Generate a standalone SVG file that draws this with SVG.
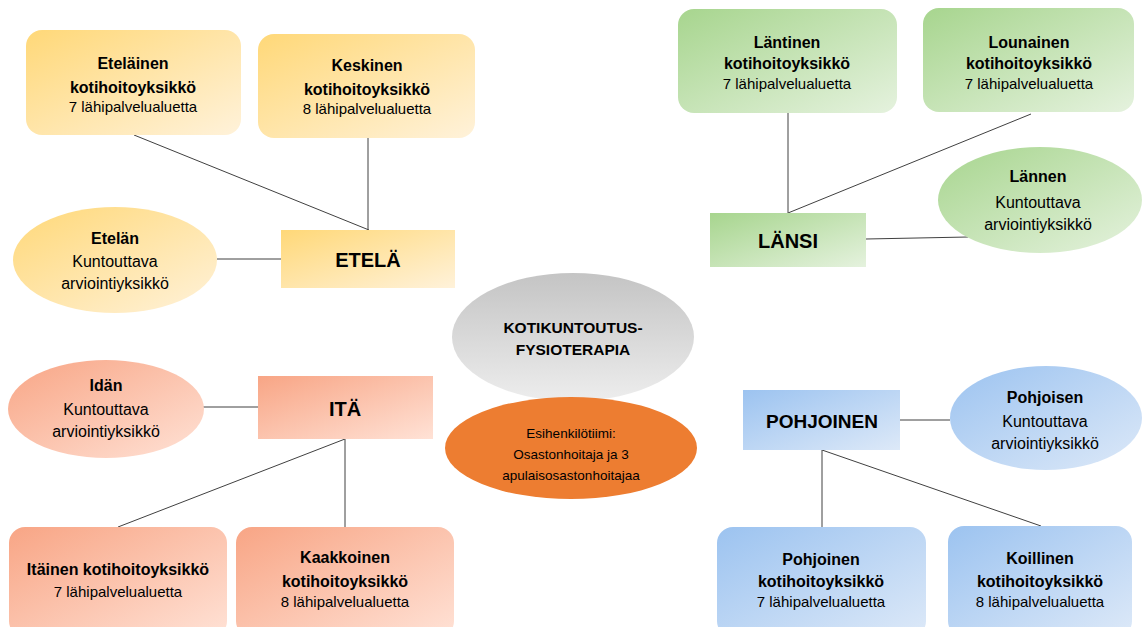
<svg xmlns="http://www.w3.org/2000/svg" width="1142" height="627" viewBox="0 0 1142 627">
<defs>
<linearGradient id="gY" x1="0" y1="0" x2="1" y2="1"><stop offset="0" stop-color="#FFD878"/><stop offset="1" stop-color="#FFF2DA"/></linearGradient>
<linearGradient id="gG" x1="0" y1="0" x2="1" y2="1"><stop offset="0" stop-color="#A7D58E"/><stop offset="1" stop-color="#E5F2DE"/></linearGradient>
<linearGradient id="gR" x1="0" y1="0" x2="1" y2="1"><stop offset="0" stop-color="#F8A585"/><stop offset="1" stop-color="#FFE2D6"/></linearGradient>
<linearGradient id="gB" x1="0" y1="0" x2="1" y2="1"><stop offset="0" stop-color="#9CC3F0"/><stop offset="1" stop-color="#DDE9F8"/></linearGradient>
<linearGradient id="gC" x1="0" y1="0" x2="0" y2="1"><stop offset="0" stop-color="#C4C4C4"/><stop offset="1" stop-color="#EDEDED"/></linearGradient>
</defs>
<style>
text{font-family:"Liberation Sans",Arial,sans-serif;fill:#000;text-anchor:middle}
.b{font-weight:bold;font-size:16px}
.r{font-size:15px}
.e{font-size:16px}
.h{font-weight:bold;font-size:20px}
.c{font-weight:bold;font-size:15.5px}
.o{font-size:13.5px}
.ln{stroke:#404040;stroke-width:1;fill:none}
</style>
<rect width="1142" height="627" fill="#fff"/>
<g id="connectors">
<line class="ln" x1="134" y1="135" x2="369" y2="230"/>
<line class="ln" x1="368" y1="138" x2="368" y2="230"/>
<line class="ln" x1="217" y1="259" x2="281" y2="259"/>
<line class="ln" x1="788" y1="113" x2="788" y2="213"/>
<line class="ln" x1="1031" y1="114" x2="788" y2="213"/>
<line class="ln" x1="866" y1="239" x2="968" y2="237"/>
<line class="ln" x1="203" y1="407" x2="258" y2="407"/>
<line class="ln" x1="345" y1="439" x2="118" y2="527"/>
<line class="ln" x1="345" y1="439" x2="345" y2="527"/>
<line class="ln" x1="900" y1="420" x2="950" y2="420"/>
<line class="ln" x1="822" y1="450" x2="822" y2="527"/>
<line class="ln" x1="822" y1="450" x2="1041" y2="526"/>
</g>
<g id="etelainen">
<rect x="26" y="30" width="215" height="105" rx="16" fill="url(#gY)"/>
<text class="b" x="133" y="69">Eteläinen</text>
<text class="b" x="133" y="93">kotihoitoyksikkö</text>
<text class="r" x="133" y="112">7 lähipalvelualuetta</text>
</g>
<g id="keskinen">
<rect x="258" y="34" width="217" height="104" rx="16" fill="url(#gY)"/>
<text class="b" x="367" y="71">Keskinen</text>
<text class="b" x="367" y="95">kotihoitoyksikkö</text>
<text class="r" x="367" y="114">8 lähipalvelualuetta</text>
</g>
<g id="etelan">
<ellipse cx="115" cy="260" rx="102" ry="53" fill="url(#gY)"/>
<text class="b" x="115" y="244">Etelän</text>
<text class="e" x="115" y="267">Kuntouttava</text>
<text class="e" x="115" y="289">arviointiyksikkö</text>
</g>
<g id="etela">
<rect x="281" y="230" width="174" height="58" fill="url(#gY)"/>
<text class="h" x="368" y="267">ETELÄ</text>
</g>
<g id="lantinen">
<rect x="678" y="9" width="219" height="104" rx="16" fill="url(#gG)"/>
<text class="b" x="787" y="48">Läntinen</text>
<text class="b" x="787" y="69">kotihoitoyksikkö</text>
<text class="r" x="787" y="89">7 lähipalvelualuetta</text>
</g>
<g id="lounainen">
<rect x="923" y="8" width="211" height="104" rx="16" fill="url(#gG)"/>
<text class="b" x="1029" y="48">Lounainen</text>
<text class="b" x="1029" y="69">kotihoitoyksikkö</text>
<text class="r" x="1029" y="89">7 lähipalvelualuetta</text>
</g>
<g id="lannen">
<ellipse cx="1040" cy="200" rx="102" ry="53" fill="url(#gG)"/>
<text class="b" x="1038" y="182">Lännen</text>
<text class="e" x="1038" y="208">Kuntouttava</text>
<text class="e" x="1038" y="230">arviointiyksikkö</text>
</g>
<g id="lansi">
<rect x="710" y="213" width="156" height="54" fill="url(#gG)"/>
<text class="h" x="788" y="248">LÄNSI</text>
</g>
<g id="idan">
<ellipse cx="106" cy="409" rx="98" ry="49" fill="url(#gR)"/>
<text class="b" x="106" y="391">Idän</text>
<text class="e" x="106" y="415">Kuntouttava</text>
<text class="e" x="106" y="437">arviointiyksikkö</text>
</g>
<g id="ita">
<rect x="258" y="376" width="175" height="63" fill="url(#gR)"/>
<text class="h" x="345" y="416">ITÄ</text>
</g>
<g id="itainen">
<rect x="9" y="527" width="218" height="110" rx="16" fill="url(#gR)"/>
<text class="b" x="118" y="575">Itäinen kotihoitoyksikkö</text>
<text class="r" x="118" y="597">7 lähipalvelualuetta</text>
</g>
<g id="kaakkoinen">
<rect x="236" y="527" width="218" height="110" rx="16" fill="url(#gR)"/>
<text class="b" x="345" y="563">Kaakkoinen</text>
<text class="b" x="345" y="587">kotihoitoyksikkö</text>
<text class="r" x="345" y="607">8 lähipalvelualuetta</text>
</g>
<g id="pohjoinen">
<rect x="743" y="390" width="157" height="60" fill="url(#gB)"/>
<text class="h" x="822" y="428" style="font-size:19px">POHJOINEN</text>
</g>
<g id="pohjoisen">
<ellipse cx="1046" cy="418" rx="96" ry="52" fill="url(#gB)"/>
<text class="b" x="1045" y="403">Pohjoisen</text>
<text class="e" x="1045" y="427">Kuntouttava</text>
<text class="e" x="1045" y="449">arviointiyksikkö</text>
</g>
<g id="pohjoinen-koti">
<rect x="717" y="527" width="209" height="110" rx="16" fill="url(#gB)"/>
<text class="b" x="821" y="565">Pohjoinen</text>
<text class="b" x="821" y="587">kotihoitoyksikkö</text>
<text class="r" x="821" y="607">7 lähipalvelualuetta</text>
</g>
<g id="koillinen">
<rect x="948" y="526" width="184" height="111" rx="16" fill="url(#gB)"/>
<text class="b" x="1040" y="564">Koillinen</text>
<text class="b" x="1040" y="587">kotihoitoyksikkö</text>
<text class="r" x="1040" y="607">8 lähipalvelualuetta</text>
</g>
<g id="kotikuntoutus">
<ellipse cx="573" cy="337" rx="121" ry="64" fill="url(#gC)"/>
<text class="c" x="573" y="333">KOTIKUNTOUTUS-</text>
<text class="c" x="573" y="355">FYSIOTERAPIA</text>
</g>
<g id="esihenkilotiimi">
<ellipse cx="571" cy="448" rx="126" ry="51" fill="#ED7D31"/>
<text class="o" x="571" y="438">Esihenkilötiimi:</text>
<text class="o" x="571" y="459">Osastonhoitaja ja 3</text>
<text class="o" x="571" y="480">apulaisosastonhoitajaa</text>
</g>
</svg>
